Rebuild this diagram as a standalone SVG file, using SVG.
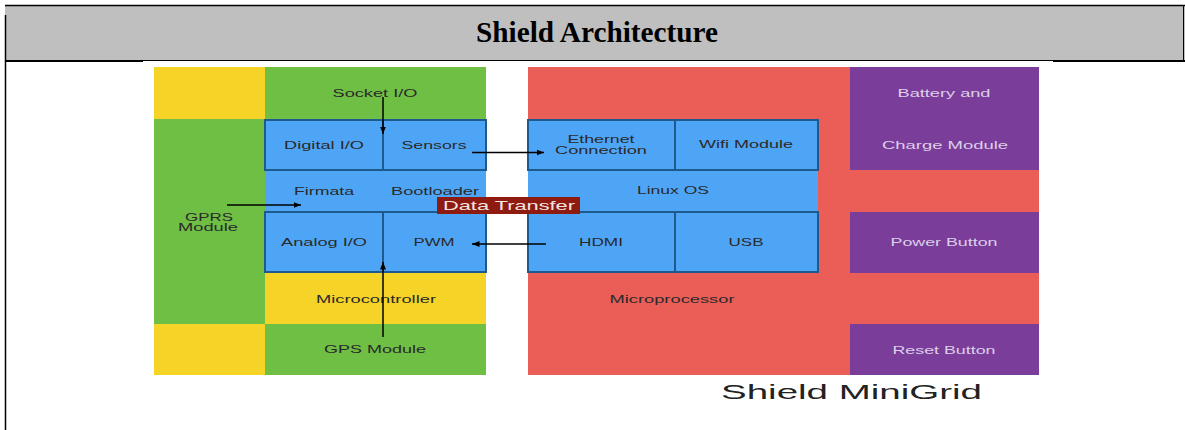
<svg xmlns="http://www.w3.org/2000/svg" width="1185" height="430" viewBox="0 0 1185 430">
  <style>
    .lbl { font-family: "Liberation Sans", Arial, sans-serif; font-size: 11.5px; fill: #2a2a2a; text-anchor: middle; }
    .plbl { font-family: "Liberation Sans", Arial, sans-serif; font-size: 11.5px; fill: #dccfea; text-anchor: middle; }
    .yel { fill: #F5D327; }
    .grn { fill: #6FBF44; }
    .blu { fill: #4FA5F5; }
    .box { fill: #4FA5F5; stroke: #1F5A8C; stroke-width: 2; }
    .red { fill: #EB5E57; }
    .pur { fill: #7A3E9A; }
    .conn { stroke: #000; stroke-width: 1.5; fill: none; }
  </style>
  <defs>
    <marker id="ah" viewBox="0 0 10 10" refX="10" refY="5" markerWidth="5" markerHeight="5" orient="auto" markerUnits="strokeWidth">
      <path d="M0,1 L10,5 L0,9 z" fill="#000"/>
    </marker>
  </defs>

  <rect width="1185" height="430" fill="#fff"/>

  <!-- table header -->
  <g id="header">
    <rect x="5" y="5" width="1180" height="55" fill="#BEBFBE"/>
    <line x1="5" y1="5.5" x2="1185" y2="5.5" stroke="#000" stroke-width="1.5"/>
    <line x1="5" y1="60.5" x2="1185" y2="60.5" stroke="#000" stroke-width="1.2"/>
    <line x1="5" y1="61" x2="143" y2="61" stroke="#000" stroke-width="2"/>
    <line x1="1053" y1="61" x2="1185" y2="61" stroke="#000" stroke-width="2"/>
    <line x1="5.5" y1="15" x2="5.5" y2="430" stroke="#000" stroke-width="1.5"/>
    <line x1="1183.5" y1="5" x2="1183.5" y2="60" stroke="#000" stroke-width="1"/>
    <text x="597" y="42" font-family="'Liberation Serif', 'Times New Roman', serif" font-size="29" font-weight="bold" text-anchor="middle" textLength="242" lengthAdjust="spacingAndGlyphs" fill="#000">Shield Architecture</text>
  </g>

  <!-- left panel backgrounds -->
  <g id="left-panel">
    <rect class="yel" x="154" y="67" width="111" height="52"/>
    <rect class="grn" x="265" y="67" width="221" height="52"/>
    <rect class="grn" x="154" y="119" width="111" height="205"/>
    <rect class="blu" x="265" y="119" width="221" height="154"/>
    <rect class="yel" x="265" y="273" width="221" height="51"/>
    <rect class="yel" x="154" y="324" width="111" height="51"/>
    <rect class="grn" x="265" y="324" width="221" height="51"/>
  </g>

  <g id="socket-io"><text class="lbl" x="375" y="97" textLength="85" lengthAdjust="spacingAndGlyphs">Socket I/O</text></g>
  <g id="gprs-module">
    <text class="lbl" x="209" y="220.5" textLength="48" lengthAdjust="spacingAndGlyphs">GPRS</text>
    <text class="lbl" x="208" y="231" textLength="60" lengthAdjust="spacingAndGlyphs">Module</text>
  </g>
  <g id="digital-io">
    <rect class="box" x="265" y="120" width="118" height="50"/>
    <text class="lbl" x="324" y="148.5" textLength="80" lengthAdjust="spacingAndGlyphs">Digital I/O</text>
  </g>
  <g id="sensors">
    <rect class="box" x="383" y="120" width="103" height="50"/>
    <text class="lbl" x="434" y="148.5" textLength="65" lengthAdjust="spacingAndGlyphs">Sensors</text>
  </g>
  <g id="firmata"><text class="lbl" x="324" y="194.5" textLength="60" lengthAdjust="spacingAndGlyphs">Firmata</text></g>
  <g id="bootloader"><text class="lbl" x="435" y="194.5" textLength="88" lengthAdjust="spacingAndGlyphs">Bootloader</text></g>
  <g id="analog-io">
    <rect class="box" x="265" y="212" width="118" height="60"/>
    <text class="lbl" x="324" y="246" textLength="86" lengthAdjust="spacingAndGlyphs">Analog I/O</text>
  </g>
  <g id="pwm">
    <rect class="box" x="383" y="212" width="103" height="60"/>
    <text class="lbl" x="434" y="246" textLength="41" lengthAdjust="spacingAndGlyphs">PWM</text>
  </g>
  <g id="microcontroller"><text class="lbl" x="376" y="303" textLength="120" lengthAdjust="spacingAndGlyphs">Microcontroller</text></g>
  <g id="gps-module"><text class="lbl" x="375" y="353" textLength="102" lengthAdjust="spacingAndGlyphs">GPS Module</text></g>

  <!-- right panel backgrounds -->
  <g id="right-panel">
    <rect class="red" x="528" y="67" width="322" height="308"/>
    <rect class="red" x="850" y="170" width="189" height="42"/>
    <rect class="red" x="850" y="273" width="189" height="51"/>
    <rect class="blu" x="528" y="119" width="290" height="154"/>
  </g>
  <g id="ethernet">
    <rect class="box" x="528" y="120" width="147" height="50"/>
    <text class="lbl" x="601" y="143" textLength="67" lengthAdjust="spacingAndGlyphs">Ethernet</text>
    <text class="lbl" x="601" y="154" textLength="92" lengthAdjust="spacingAndGlyphs">Connection</text>
  </g>
  <g id="wifi">
    <rect class="box" x="675" y="120" width="143" height="50"/>
    <text class="lbl" x="746" y="148" textLength="94" lengthAdjust="spacingAndGlyphs">Wifi Module</text>
  </g>
  <g id="linux-os"><text class="lbl" x="673" y="194" textLength="72" lengthAdjust="spacingAndGlyphs">Linux OS</text></g>
  <g id="hdmi">
    <rect class="box" x="528" y="212" width="147" height="60"/>
    <text class="lbl" x="601" y="246" textLength="44" lengthAdjust="spacingAndGlyphs">HDMI</text>
  </g>
  <g id="usb">
    <rect class="box" x="675" y="212" width="143" height="60"/>
    <text class="lbl" x="746" y="246" textLength="35" lengthAdjust="spacingAndGlyphs">USB</text>
  </g>
  <g id="microprocessor"><text class="lbl" x="672" y="303" textLength="125" lengthAdjust="spacingAndGlyphs">Microprocessor</text></g>

  <g id="battery">
    <rect class="pur" x="850" y="67" width="189" height="103"/>
    <text class="plbl" x="944" y="97" textLength="93" lengthAdjust="spacingAndGlyphs">Battery and</text>
    <text class="plbl" x="945" y="149" textLength="126" lengthAdjust="spacingAndGlyphs">Charge Module</text>
  </g>
  <g id="power-button">
    <rect class="pur" x="850" y="212" width="189" height="61"/>
    <text class="plbl" x="944" y="246" textLength="107" lengthAdjust="spacingAndGlyphs">Power Button</text>
  </g>
  <g id="reset-button">
    <rect class="pur" x="850" y="324" width="189" height="51"/>
    <text class="plbl" x="944" y="354" textLength="103" lengthAdjust="spacingAndGlyphs">Reset Button</text>
  </g>

  <!-- connectors -->
  <g id="connectors">
    <line class="conn" x1="383" y1="97" x2="383" y2="134" marker-end="url(#ah)"/>
    <line class="conn" x1="383" y1="337" x2="383" y2="262" marker-end="url(#ah)"/>
    <line class="conn" x1="227" y1="205" x2="301" y2="205" marker-end="url(#ah)"/>
    <line class="conn" x1="472" y1="152.5" x2="544" y2="152.5" marker-end="url(#ah)"/>
    <line class="conn" x1="546" y1="244" x2="472" y2="244" marker-end="url(#ah)"/>
  </g>

  <g id="data-transfer">
    <rect x="437" y="197" width="143" height="17" fill="#8E1A10"/>
    <text x="509" y="209.5" font-family="'Liberation Sans', Arial, sans-serif" font-size="13" fill="#f2e6e4" text-anchor="middle" textLength="132" lengthAdjust="spacingAndGlyphs">Data Transfer</text>
  </g>

  <g id="caption">
    <text x="851.5" y="399" font-family="'Liberation Sans', Arial, sans-serif" font-size="20" fill="#222" text-anchor="middle" textLength="261" lengthAdjust="spacingAndGlyphs">Shield MiniGrid</text>
  </g>
</svg>
